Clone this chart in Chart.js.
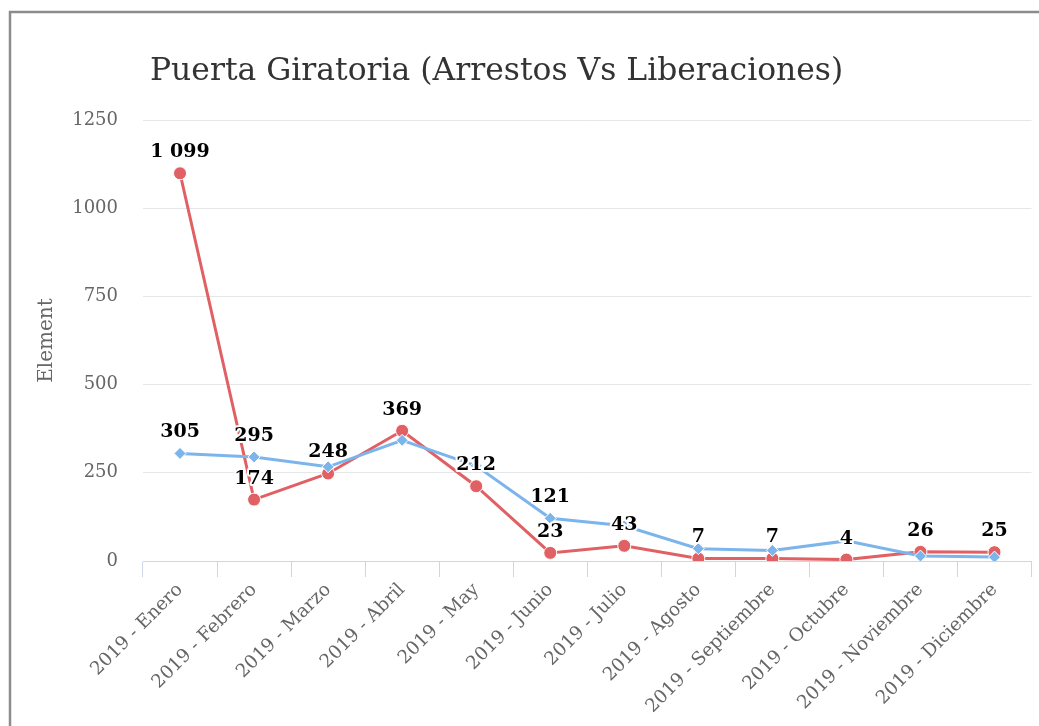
<!DOCTYPE html>
<html>
<head>
<meta charset="utf-8">
<script src="https://cdn.jsdelivr.net/npm/chart.js@4"></script>
<style>
  html, body { margin: 0; padding: 0; background: #fff; }
  #wrap { width: 1039px; height: 726px; }
</style>
</head>
<body>
<div id="wrap"><canvas id="puertaChart" width="1039" height="726"></canvas></div>
<script>
const months = [
  "2019 - Enero", "2019 - Febrero", "2019 - Marzo", "2019 - Abril",
  "2019 - May", "2019 - Junio", "2019 - Julio", "2019 - Agosto",
  "2019 - Septiembre", "2019 - Octubre", "2019 - Noviembre", "2019 - Diciembre"
];
const arrestos = [1099, 174, 248, 369, 212, 23, 43, 7, 7, 4, 26, 25];
const liberaciones = [305, 295, 267, 342, 270, 121, 100, 35, 30, 57, 14, 11];
// only these points of the blue line carry a value label
const liberacionesLabeled = [0, 1, 5];
const yTicks = [0, 250, 500, 750, 1000, 1250];

const serif = "'DejaVu Serif', serif";

function fmt(v) {
  return String(v).replace(/\B(?=(\d{3})+(?!\d))/g, " ");
}

//frame, title and point labels
const decor = {
  id: "decor",
  beforeDraw(chart) {
    const c = chart.ctx;
    c.save();
    c.strokeStyle = "#8c8c8c";
    c.lineWidth = 2.5;
    c.beginPath();
    c.moveTo(10, chart.height);
    c.lineTo(10, 12);
    c.lineTo(chart.width, 12);
    c.stroke();
    c.fillStyle = "#333";
    c.font = "31.4px " + serif;
    c.textBaseline = "alphabetic";
    c.fillText("Puerta Giratoria (Arrestos Vs Liberaciones)", 150, 80);
    c.restore();
  },
  afterDatasetsDraw(chart) {
    const c = chart.ctx;
    c.save();
    c.font = "bold 19px " + serif;
    c.textAlign = "center";
    c.textBaseline = "middle";
    c.lineJoin = "round";
    chart.data.datasets.forEach((ds, di) => {
      const meta = chart.getDatasetMeta(di);
      const shown = ds.labeled || ds.data.map((_, i) => i);
      shown.forEach(i => {
        const pt = meta.data[i];
        const txt = fmt(ds.data[i]);
        c.strokeStyle = "#fff";
        c.lineWidth = 4;
        c.strokeText(txt, pt.x, pt.y - 21);
        c.fillStyle = "#000";
        c.fillText(txt, pt.x, pt.y - 21);
      });
    });
    c.restore();
  }
};

const ctx = document.getElementById("puertaChart");
new Chart(ctx, {
  type: "line",
  data: {
    labels: months,
    datasets: [
      {
        label: "Arrestos",
        data: arrestos,
        borderColor: "#e06063",
        backgroundColor: "#e06063",
        pointBackgroundColor: "#e06063",
        pointBorderColor: "#fff",
        pointBorderWidth: 1,
        pointStyle: "circle",
        pointRadius: 6.5,
        borderWidth: 3,
        order: 1,
      },
      {
        label: "Liberaciones",
        data: liberaciones,
        labeled: liberacionesLabeled,
        borderColor: "#7cb5ec",
        backgroundColor: "#7cb5ec",
        pointBackgroundColor: "#7cb5ec",
        pointBorderColor: "#fff",
        pointBorderWidth: 1,
        pointStyle: "rectRot",
        pointRadius: 6,
        borderWidth: 3,
        order: 0,
      },
    ],
  },
  options: {
    responsive: false,
    animation: false,
    layout: { padding: { top: 120, right: 4, left: 0, bottom: 0 } },
    plugins: {
      legend: { display: false },
      tooltip: { enabled: false },
    },
    scales: {
      x: {
        offset: true,
        grid: {
          offset: true,
          drawOnChartArea: false,
          tickLength: 16,
          color: "#ccd6eb",
        },
        border: { color: "#ccd6eb", width: 1 },
        ticks: {
          minRotation: 45,
          maxRotation: 45,
          color: "#666",
          font: { family: serif, size: 18.5 },
          padding: 2,
        },
        afterFit(scale) { scale.height = 165; },
      },
      y: {
        min: 0,
        max: 1250,
        afterBuildTicks(scale) {
          scale.ticks = yTicks.map(v => ({ value: v }));
        },
        grid: { color: "#e6e6e6", drawTicks: false },
        border: { display: false },
        ticks: {
          color: "#666",
          font: { family: serif, size: 18 },
          padding: 25,
          callback: v => String(v),
        },
        title: {
          display: true,
          text: "Element",
          color: "#666",
          font: { family: serif, size: 20 },
          padding: { top: 35, bottom: 0 },
        },
        afterFit(scale) { scale.width = 143; },
      },
    },
  },
  plugins: [decor],
});
</script>
</body>
</html>
